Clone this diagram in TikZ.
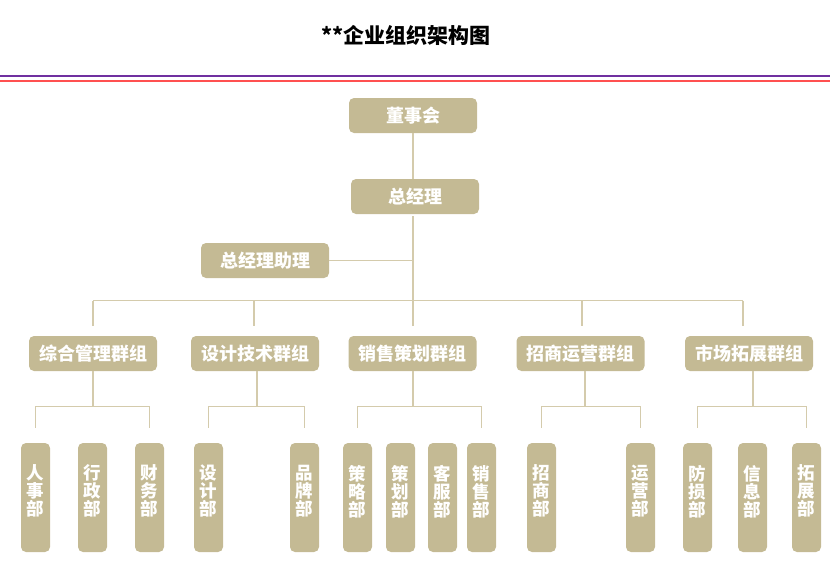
\documentclass[tikz,border=0pt]{standalone}
\usepackage{fontspec}
\newfontfamily\cjk{Noto Sans CJK SC}
\definecolor{boxc}{RGB}{196,186,148}
\definecolor{linec}{RGB}{212,203,172}
\definecolor{purp}{RGB}{112,48,160}
\definecolor{redl}{RGB}{255,80,80}
\tikzset{
  box/.style={draw=none,fill=boxc,rounded corners=5pt,minimum width=128pt,minimum height=35pt,inner sep=0pt,
    font=\cjk\bfseries\fontsize{18}{18}\selectfont,text=white},
  leaf/.style={draw=none,fill=boxc,rounded corners=5pt,minimum width=29pt,minimum height=109pt,inner sep=0pt,
    font=\cjk\bfseries\fontsize{17.5}{18}\selectfont,text=white,align=center,text depth=14pt},
  conn/.style={draw=linec,line width=1.5pt},
}
\begin{document}
\begin{tikzpicture}[x=1pt,y=-1pt]
\useasboundingbox (0,0) rectangle (830,587);
\node[font=\cjk\bfseries\fontsize{21}{22}\selectfont] (title) at (406,35) {**企业组织架构图};
\coordinate (pl) at (0,75.5); \coordinate (pr) at (830,75.5);
\coordinate (rl) at (0,81); \coordinate (rr) at (830,81);
\draw[purp,line width=2pt] (pl) -- (pr);
\draw[redl,line width=2pt] (rl) -- (rr);

\node[box] (dsh) at (413,115.5) {董事会};
\node[box] (zjl) at (415,196.5) {总经理};
\node[box] (zl) at (265,260.5) {总经理助理};

\node[box] (g1) at (93,353.5) {综合管理群组};
\node[box] (g2) at (255,353.5) {设计技术群组};
\node[box] (g3) at (412.5,353.5) {销售策划群组};
\node[box] (g4) at (580.5,353.5) {招商运营群组};
\node[box] (g5) at (749,353.5) {市场拓展群组};

\node[leaf] (l1) at (35.5,497.5) {人\\事\\部};
\node[leaf] (l2) at (92.5,497.5) {行\\政\\部};
\node[leaf] (l3) at (149.5,497.5) {财\\务\\部};
\node[leaf] (l4) at (208.5,497.5) {设\\计\\部};
\node[leaf] (l5) at (304.5,497.5) {品\\牌\\部};
\node[leaf] (l6) at (357.5,497.5) {策\\略\\部};
\node[leaf] (l7) at (400.5,497.5) {策\\划\\部};
\node[leaf] (l8) at (442.5,497.5) {客\\服\\部};
\node[leaf] (l9) at (481.5,497.5) {销\\售\\部};
\node[leaf] (l10) at (541.5,497.5) {招\\商\\部};
\node[leaf] (l11) at (640.5,497.5) {运\\营\\部};
\node[leaf] (l12) at (697.5,497.5) {防\\损\\部};
\node[leaf] (l13) at (752.5,497.5) {信\\息\\部};
\node[leaf] (l14) at (806.5,497.5) {拓\\展\\部};

% top connectors
\coordinate (bus) at (413,300.5);
\coordinate (t1) at (93,300.5);
\coordinate (t2) at (254,300.5);
\coordinate (t3) at (413,300.5);
\coordinate (t4) at (582,300.5);
\coordinate (t5) at (743,300.5);
\draw[conn] (dsh.south) -- (dsh.south |- zjl.north);
\draw[conn,shorten <=2pt] (zjl.south -| bus) -- (bus);
\draw[conn] (zl.east) -- (zl.east -| bus);
\draw[conn] (t1) -- (t5);
\foreach \i in {1,...,5} {
  \draw[conn,shorten >=10pt] (t\i) -- (t\i |- g\i.north);
}
% group drops
\coordinate (d1) at (93,406.5);
\coordinate (d2) at (257,406.5);
\coordinate (d3) at (413,406.5);
\coordinate (d4) at (585,406.5);
\coordinate (d5) at (753,406.5);
\foreach \i in {1,...,5} {
  \draw[conn] (d\i |- g\i.south) -- (d\i);
}
\draw[conn,shorten <=15pt,shorten >=15pt] (l1.north) |- (d1) -| (l3.north);
\draw[conn,shorten <=15pt,shorten >=15pt] (l4.north) |- (d2) -| (l5.north);
\draw[conn,shorten <=15pt,shorten >=15pt] (l6.north) |- (d3) -| (l9.north);
\draw[conn,shorten <=15pt,shorten >=15pt] (l10.north) |- (d4) -| (l11.north);
\draw[conn,shorten <=15pt,shorten >=15pt] (l12.north) |- (d5) -| (l14.north);
\end{tikzpicture}
\end{document}
